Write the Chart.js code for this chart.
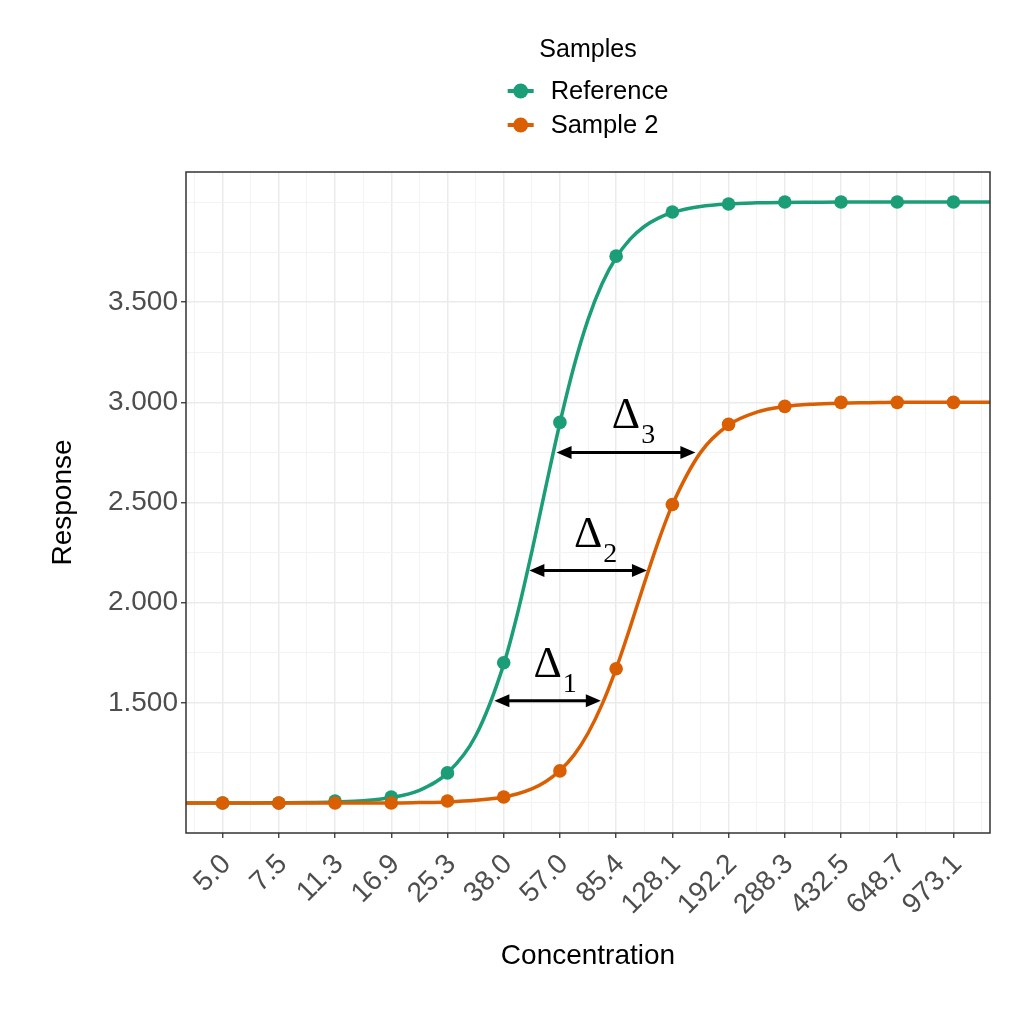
<!DOCTYPE html>
<html>
<head>
<meta charset="utf-8">
<script src="https://cdn.jsdelivr.net/npm/chart.js@4/dist/chart.umd.min.js"></script>
<style>
html,body{margin:0;padding:0;background:#ffffff;}
#wrap{width:1024px;height:1024px;position:relative;}
</style>
</head>
<body>
<div id="wrap"><canvas id="c"></canvas></div>
<script>
// ---------------- data ----------------
const seriesNames = ['Reference', 'Sample 2'];
const legendTitle = 'Samples';
const xTitle = 'Concentration';
const yTitle = 'Response';

const concentrations = [5, 7.5, 11.25, 16.875, 25.31, 37.97, 56.95, 85.43, 128.14, 192.22, 288.33, 432.49, 648.73, 973.09];
const tickLabels = ['5.0','7.5','11.3','16.9','25.3','38.0','57.0','85.4','128.1','192.2','288.3','432.5','648.7','973.1'];
const referencePoints = [1.0, 1.0, 1.01, 1.03, 1.15, 1.70, 2.90, 3.73, 3.95, 3.99, 4.0, 4.0, 4.0, 4.0];
const sample2Points   = [1.0, 1.0, 1.0, 1.0, 1.01, 1.03, 1.16, 1.67, 2.49, 2.89, 2.98, 3.0, 3.0, 3.0];

// fitted curves
const curveConc = [3.84, 5, 6.12, 7.5, 9.19, 11.25, 13.78, 16.875, 20.67, 25.31, 31.0, 37.97, 42.02, 46.5, 51.46, 56.95, 63.03, 69.75, 77.19, 85.43, 94.55, 104.63, 115.8, 128.14, 156.94, 192.22, 235.42, 288.33, 353.13, 432.49, 529.69, 648.73, 794.53, 973.09, 1266.6];
const referenceCurve = [1.0, 1.0, 1.0, 1.001, 1.002, 1.005, 1.011, 1.027, 1.063, 1.149, 1.334, 1.692, 1.951, 2.254, 2.579, 2.897, 3.18, 3.413, 3.592, 3.723, 3.815, 3.878, 3.92, 3.948, 3.978, 3.991, 3.996, 3.998, 3.999, 4.0, 4.0, 4.0, 4.0, 4.0, 4.0];
const sample2Curve   = [1.0, 1.0, 1.0, 1.0, 1.0, 1.0, 1.0, 1.0, 1.002, 1.005, 1.013, 1.03, 1.046, 1.07, 1.107, 1.162, 1.239, 1.348, 1.492, 1.671, 1.878, 2.096, 2.305, 2.488, 2.749, 2.887, 2.951, 2.979, 2.991, 2.996, 2.998, 3.0, 3.0, 3.0, 3.0];

const yMajorTicks = [1.5, 2.0, 2.5, 3.0, 3.5];
const yMinorTicks = [1.0, 1.25, 1.75, 2.25, 2.75, 3.25, 3.75, 4.0];
const xRange = [3.84, 1266.6];
const yRange = [0.85, 4.15];

// shift annotations (data units)
const deltaSubscripts = ['1', '2', '3'];
const deltaFrom = [35.5, 45.7, 55.6];
const deltaTo   = [76.5, 106.7, 151.3];
const deltaY    = [1.51, 2.16, 2.75];

// ---------------- styles ----------------
const COLORS = ['#1B9E77', '#D95F02'];
const SANS = '"Liberation Sans", Arial, Helvetica, sans-serif';
const SERIF = '"Liberation Serif", "Times New Roman", serif';

// minor x gridlines at geometric midpoints
const xMinor = [];
xMinor.push(concentrations[0] / Math.sqrt(concentrations[1] / concentrations[0]));
for (let i = 0; i < concentrations.length - 1; i++) xMinor.push(Math.sqrt(concentrations[i] * concentrations[i + 1]));
const nC = concentrations.length;
xMinor.push(concentrations[nC - 1] * Math.sqrt(concentrations[nC - 1] / concentrations[nC - 2]));
const xAllTicks = concentrations.concat(xMinor).sort((a, b) => a - b);
const yAllTicks = yMajorTicks.concat(yMinorTicks).sort((a, b) => a - b);

const isXMajor = v => concentrations.indexOf(v) >= 0;
const isYMajor = v => yMajorTicks.indexOf(v) >= 0;

const toXY = (xs, ys) => xs.map((x, i) => ({x: x, y: ys[i]}));

const panelPlugin = {
  id: 'panelPlugin',
  afterDatasetsDraw(chart) {
    const {ctx, chartArea: a, scales} = chart;
    const sx = scales.x, sy = scales.y;
    ctx.save();
    // arrows with delta labels
    for (let k = 0; k < deltaFrom.length; k++) {
      const x1 = sx.getPixelForValue(deltaFrom[k]);
      const x2 = sx.getPixelForValue(deltaTo[k]);
      const py = sy.getPixelForValue(deltaY[k]);
      const hl = 15, hw = 6.5;
      ctx.strokeStyle = '#000'; ctx.fillStyle = '#000'; ctx.lineWidth = 3;
      ctx.beginPath(); ctx.moveTo(x1 + hl - 3, py); ctx.lineTo(x2 - hl + 3, py); ctx.stroke();
      ctx.beginPath(); ctx.moveTo(x1, py); ctx.lineTo(x1 + hl, py - hw); ctx.lineTo(x1 + hl, py + hw); ctx.closePath(); ctx.fill();
      ctx.beginPath(); ctx.moveTo(x2, py); ctx.lineTo(x2 - hl, py - hw); ctx.lineTo(x2 - hl, py + hw); ctx.closePath(); ctx.fill();
      const cx = (x1 + x2) / 2;
      const base = py - 24;
      ctx.font = '44px ' + SERIF;
      ctx.textAlign = 'center'; ctx.textBaseline = 'alphabetic';
      ctx.fillText('\u0394', cx, base);
      const w = ctx.measureText('\u0394').width;
      ctx.font = '28px ' + SERIF;
      ctx.textAlign = 'left';
      ctx.fillText(deltaSubscripts[k], cx + w / 2 + 1, base + 15);
    }
    // panel border
    ctx.strokeStyle = '#333333'; ctx.lineWidth = 1.5;
    ctx.strokeRect(a.left, a.top, a.right - a.left, a.bottom - a.top);
    ctx.restore();
  },
  afterDraw(chart) {
    const {ctx, chartArea: a} = chart;
    ctx.save();
    const cx = (a.left + a.right) / 2;
    ctx.fillStyle = '#000';
    ctx.font = '25px ' + SANS;
    ctx.textAlign = 'center'; ctx.textBaseline = 'middle';
    ctx.fillText(legendTitle, cx, 50);
    ctx.font = '25.5px ' + SANS;
    const tw = Math.max(...seriesNames.map(s => ctx.measureText(s).width));
    const symW = 26, gap = 17;
    const left = cx - (symW + gap + tw) / 2;
    const rows = [91, 125];
    seriesNames.forEach((name, i) => {
      const ry = rows[i];
      ctx.strokeStyle = COLORS[i]; ctx.fillStyle = COLORS[i]; ctx.lineWidth = 4;
      ctx.beginPath(); ctx.moveTo(left, ry); ctx.lineTo(left + symW, ry); ctx.stroke();
      ctx.beginPath(); ctx.arc(left + symW / 2, ry, 7.5, 0, Math.PI * 2); ctx.fill();
      ctx.fillStyle = '#000'; ctx.textAlign = 'left'; ctx.textBaseline = 'middle';
      ctx.fillText(name, left + symW + gap, ry + 1);
    });
    ctx.restore();
  }
};

const datasets = [
  {label: seriesNames[1] + ' points', data: toXY(concentrations, sample2Points), showLine: false,
   pointRadius: 6.8, pointHoverRadius: 6.8, pointBackgroundColor: COLORS[1], pointBorderColor: COLORS[1], pointBorderWidth: 0, order: 0},
  {label: seriesNames[1], data: toXY(curveConc, sample2Curve), showLine: true, borderColor: COLORS[1], borderWidth: 3.5,
   pointRadius: 0, cubicInterpolationMode: 'monotone', fill: false, order: 1},
  {label: seriesNames[0] + ' points', data: toXY(concentrations, referencePoints), showLine: false,
   pointRadius: 6.8, pointHoverRadius: 6.8, pointBackgroundColor: COLORS[0], pointBorderColor: COLORS[0], pointBorderWidth: 0, order: 2},
  {label: seriesNames[0], data: toXY(curveConc, referenceCurve), showLine: true, borderColor: COLORS[0], borderWidth: 3.5,
   pointRadius: 0, cubicInterpolationMode: 'monotone', fill: false, order: 3}
];

new Chart(document.getElementById('c'), {
  type: 'line',
  data: {datasets: datasets},
  options: {
    responsive: true,
    maintainAspectRatio: false,
    animation: false,
    devicePixelRatio: 1,
    layout: {padding: {top: 172, right: 34, left: 0, bottom: 0}},
    plugins: {legend: {display: false}, tooltip: {enabled: false}},
    scales: {
      x: {
        type: 'logarithmic',
        min: xRange[0], max: xRange[1],
        bounds: 'data',
        afterBuildTicks: s => { s.ticks = xAllTicks.map(v => ({value: v})); },
        afterFit: s => { s.height = 191; },
        border: {display: false},
        grid: {
          color: c => (c.tick && isXMajor(c.tick.value)) ? '#EBEBEB' : '#F3F3F3',
          lineWidth: c => (c.tick && isXMajor(c.tick.value)) ? 1.5 : 1,
          tickColor: c => (c.tick && isXMajor(c.tick.value)) ? '#333333' : 'rgba(0,0,0,0)',
          tickWidth: 1.3,
          tickLength: 5,
          drawTicks: true
        },
        ticks: {
          autoSkip: false, maxRotation: 45, minRotation: 45, padding: 10, labelOffset: 4,
          color: '#4D4D4D', font: {family: SANS, size: 28},
          callback: (v) => { const i = concentrations.indexOf(v); return i >= 0 ? tickLabels[i] : ''; }
        },
        title: {display: true, text: xTitle, color: '#000', font: {family: SANS, size: 28}, padding: {top: 0, bottom: 51}}
      },
      y: {
        type: 'linear',
        min: yRange[0], max: yRange[1],
        bounds: 'data',
        afterBuildTicks: s => { s.ticks = yAllTicks.map(v => ({value: v})); },
        afterFit: s => { s.width = 186; },
        border: {display: false},
        grid: {
          color: c => (c.tick && isYMajor(c.tick.value)) ? '#EBEBEB' : '#F3F3F3',
          lineWidth: c => (c.tick && isYMajor(c.tick.value)) ? 1.5 : 1,
          tickColor: c => (c.tick && isYMajor(c.tick.value)) ? '#333333' : 'rgba(0,0,0,0)',
          tickWidth: 1.3,
          tickLength: 5,
          drawTicks: true
        },
        ticks: {
          autoSkip: false, padding: 3,
          color: '#4D4D4D', font: {family: SANS, size: 28},
          callback: (v) => isYMajor(v) ? v.toFixed(3) : ''
        },
        title: {display: true, text: yTitle, color: '#000', font: {family: SANS, size: 28}, padding: {top: 46, bottom: 0}}
      }
    }
  },
  plugins: [panelPlugin]
});
</script>
</body>
</html>
